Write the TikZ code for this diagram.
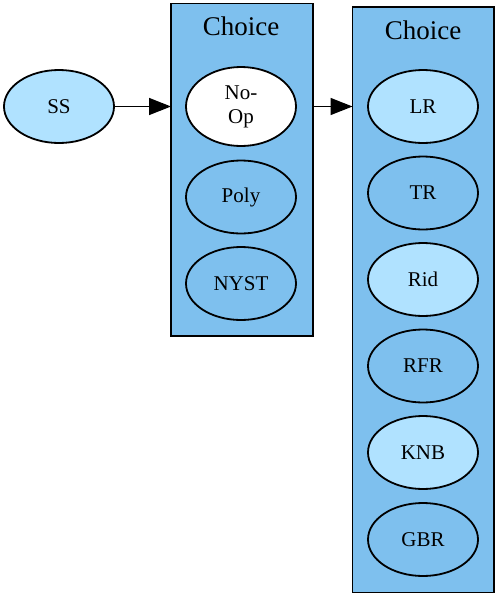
\documentclass[tikz,border=0pt]{standalone}
\usepackage{fontspec}
\setmainfont{Liberation Serif}
\usetikzlibrary{arrows.meta,shapes.geometric}
\definecolor{lightsky}{HTML}{B0E2FF}
\definecolor{skytwo}{HTML}{7EC0EE}
\tikzset{
  el/.style={draw=black, line width=1.8pt, ellipse, minimum width=110pt, minimum height=73pt, inner sep=0pt, align=center, font=\fontsize{21}{24}\selectfont},
  light/.style={el, fill=lightsky},
  dark/.style={el, fill=skytwo},
  wht/.style={el, fill=white},
  cluster/.style={draw=black, line width=1.8pt, fill=skytwo},
  ctitle/.style={font=\fontsize{27}{31}\selectfont, inner sep=0pt},
  conn/.style={line width=1.6pt, -{Triangle[length=22pt, width=17pt]}},
}
\begin{document}
\begin{tikzpicture}[x=1pt, y=-1pt]
\useasboundingbox (0,0) rectangle (499,595);
% clusters
\draw[cluster] (171,3.5) rectangle (313,336);
\coordinate (c1w) at (171,106.5);
\coordinate (c1e) at (313,106.5);
\node[ctitle] (t1) at (241,26) {Choice};
\draw[cluster] (352.5,7) rectangle (494,592.5);
\coordinate (c2w) at (352.5,106.5);
\node[ctitle] (t2) at (423,30) {Choice};
% nodes
\node[light] (ss) at (59,106.5) {SS};
\node[wht, minimum height=79pt] (noop) at (241,106.5) {No-\\Op};
\node[dark] (poly) at (241,197) {Poly};
\node[dark] (nyst) at (241,283.5) {NYST};
\node[light] (lr) at (423,106.5) {LR};
\node[dark] (tr) at (423,193) {TR};
\node[light] (rid) at (423,279.5) {Rid};
\node[dark] (rfr) at (423,366) {RFR};
\node[light] (knb) at (423,452.5) {KNB};
\node[dark] (gbr) at (423,539.5) {GBR};
% edges
\draw[conn] (ss.east) -- (c1w);
\draw[conn] (c1e) -- (c2w);
\end{tikzpicture}
\end{document}
